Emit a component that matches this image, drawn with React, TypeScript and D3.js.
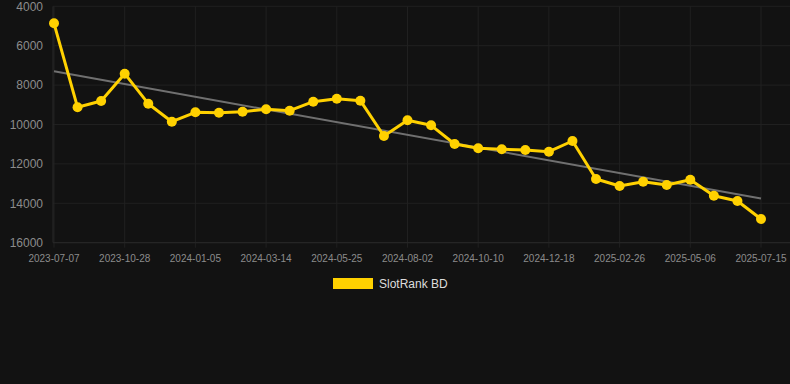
import React from "react";
import * as d3 from "d3";

const dates = [
  "2023-07-07", "2023-08-14", "2023-09-21", "2023-10-28", "2023-11-20", "2023-12-13",
  "2024-01-05", "2024-01-28", "2024-02-20", "2024-03-14", "2024-04-07", "2024-05-01",
  "2024-05-25", "2024-06-17", "2024-07-10", "2024-08-02", "2024-08-25", "2024-09-17",
  "2024-10-10", "2024-11-02", "2024-11-25", "2024-12-18", "2025-01-10", "2025-02-03",
  "2025-02-26", "2025-03-21", "2025-04-13", "2025-05-06", "2025-05-29", "2025-06-22",
  "2025-07-15",
];

const ranks = [
  4863, 9127, 8807, 7421, 8944, 9858, 9381, 9401, 9350, 9228, 9300, 8843, 8690, 8792,
  10584, 9787, 10041, 10990, 11208, 11259, 11294, 11381, 10838, 12766, 13122, 12903,
  13071, 12802, 13614, 13883, 14797,
];

const yTicks = [4000, 6000, 8000, 10000, 12000, 14000, 16000];
const seriesName = "SlotRank BD";

const W = 790;
const H = 384;
const left = 54;
const right = 761;
const top = 6.3;
const bottom = 242.7;

export default function App() {
  const x = d3.scalePoint<string>().domain(dates).range([left, right]);
  const y = d3.scaleLinear().domain([4000, 16000]).range([top, bottom]);

  const n = ranks.length;
  const idx = d3.range(n);
  const mx = d3.mean(idx) as number;
  const my = d3.mean(ranks) as number;
  const slope =
    d3.sum(idx, (i) => (i - mx) * (ranks[i] - my)) / d3.sum(idx, (i) => (i - mx) ** 2);
  const intercept = my - slope * mx;
  const trend = [0, n - 1].map((i) => ({ d: dates[i], v: intercept + slope * i }));

  const line = d3
    .line<number>()
    .x((_, i) => x(dates[i]) as number)
    .y((v) => y(v));
  const tline = d3
    .line<{ d: string; v: number }>()
    .x((p) => x(p.d) as number)
    .y((p) => y(p.v));

  const tickDates = dates.filter((_, i) => i % 3 === 0);
  const font = "'Liberation Sans', Arial, Helvetica, sans-serif";
  const gridColor = "#202020";
  const labelColor = "#8c8c8c";
  const gold = "#FFD100";

  return (
    <svg
      width={W}
      height={H}
      style={{ position: "absolute", left: 0, top: 0, display: "block" }}
      fontFamily={font}
    >
      <rect x={0} y={0} width={W} height={H} fill="#121212" />
      {yTicks.map((t) => (
        <g key={t}>
          <line x1={left - 1} x2={W} y1={y(t)} y2={y(t)} stroke={gridColor} strokeWidth={1} />
          <text
            x={43}
            y={y(t)}
            dy="0.35em"
            textAnchor="end"
            fontSize={12}
            fill={labelColor}
          >
            {t}
          </text>
        </g>
      ))}
      {tickDates.map((d) => (
        <g key={d}>
          <line
            x1={x(d)}
            x2={x(d)}
            y1={top}
            y2={bottom + 5}
            stroke={gridColor}
            strokeWidth={1}
          />
          <text
            x={x(d)}
            y={262}
            textAnchor="middle"
            fontSize={10}
            fill={labelColor}
          >
            {d}
          </text>
        </g>
      ))}
      <line x1={left - 1} x2={left - 1} y1={top} y2={bottom} stroke="#282828" />
      <line x1={left - 1} x2={W} y1={bottom} y2={bottom} stroke="#282828" />
      <path d={tline(trend) || ""} fill="none" stroke="#707070" strokeWidth={2} />
      <path
        d={line(ranks) || ""}
        fill="none"
        stroke={gold}
        strokeWidth={3}
        strokeLinejoin="round"
      />
      {ranks.map((v, i) => (
        <circle key={i} cx={x(dates[i])} cy={y(v)} r={5} fill={gold} />
      ))}
      <rect x={333} y={278} width={40} height={11} fill={gold} />
      <text x={379} y={284} dy="0.35em" fontSize={12} fill="#dddddd">
        {seriesName}
      </text>
    </svg>
  );
}
